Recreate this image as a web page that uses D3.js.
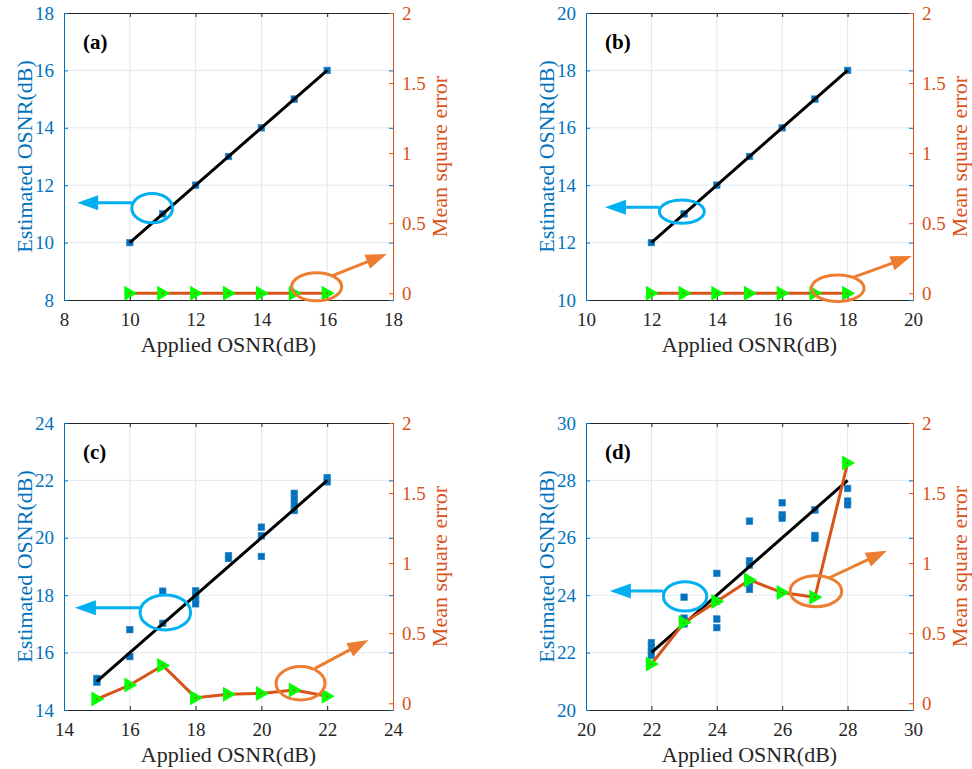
<!DOCTYPE html>
<html>
<head>
<meta charset="utf-8">
<script src="https://cdn.jsdelivr.net/npm/d3@7"></script>
<style>
  html, body { margin: 0; padding: 0; background: #fff; }
  svg text { font-family: "Liberation Serif", "Tinos", "DejaVu Serif", "Noto Serif", "Times New Roman", serif; }
</style>
</head>
<body>
<svg id="fig" width="972" height="769"></svg>
<script>
// ---- data ----------------------------------------------------------
const panelLabels = ["(a)", "(b)", "(c)", "(d)"];

const appliedA = [10, 11, 12, 13, 14, 15, 16];
const estimatedA = [[10], [11], [12], [13], [14], [15], [16]];
const mseA = [0, 0, 0, 0, 0, 0, 0];

const appliedB = [12, 13, 14, 15, 16, 17, 18];
const estimatedB = [[12], [13], [14], [15], [16], [17], [18]];
const mseB = [0, 0, 0, 0, 0, 0, 0];

const appliedC = [15, 16, 17, 18, 19, 20, 21, 22];
const estimatedC = [
  [15.1, 14.97], [16.8, 15.86], [18.14, 17.02], [18.15, 18.0, 17.85, 17.7],
  [19.38, 19.28], [20.37, 20.07, 19.35], [21.55, 21.35, 21.15, 20.95], [22.1, 21.95]
];
const mseC = [0.03, 0.13, 0.27, 0.04, 0.065, 0.07, 0.095, 0.05];

const appliedD = [22, 23, 24, 25, 26, 27, 28];
const estimatedD = [
  [22.35, 22.2, 22.05, 21.9], [23.93, 23.2, 23.0], [24.76, 23.8, 23.17, 22.87],
  [26.58, 25.2, 25.05, 24.4, 24.2], [27.22, 26.8, 26.68], [26.97, 26.08, 25.98],
  [27.72, 27.28, 27.15]
];
const mseD = [0.28, 0.576, 0.726, 0.88, 0.79, 0.757, 1.714];

// tick values
const ticksA = [8, 10, 12, 14, 16, 18];
const ticksB = [10, 12, 14, 16, 18, 20];
const ticksC = [14, 16, 18, 20, 22, 24];
const ticksD = [20, 22, 24, 26, 28, 30];
const mseTicks = [0, 0.5, 1, 1.5, 2];
const mseDomain = [-0.048, 2];

const xTitle = "Applied OSNR(dB)";
const yLeftTitle = "Estimated OSNR(dB)";
const yRightTitle = "Mean square error";

// ---- styles --------------------------------------------------------
const FONT = '"Liberation Serif", "Tinos", "DejaVu Serif", "Noto Serif", "Times New Roman", serif';
const C = {
  blue: "#0072BD", orange: "#D95319", ink: "#262626",
  green: "#00FF00", noteBlue: "#00B0F0", noteOrange: "#ED7D31",
  gridH: "#dfeaf4", gridV: "#e6e6e6"
};

// panel frames and annotation placement (annotations in left-axis data units)
const panels = [
  { label: panelLabels[0], x: appliedA, est: estimatedA, mse: mseA, ticks: ticksA,
    box: [64, 13, 393, 300],
    blue: { c: [10.68, 11.2], r: [20.3, 14.7], from: [10.07, 11.39], to: [8.4, 11.39] },
    orange: { c: [15.68, 8.46], r: [25, 14], from: [16.14, 8.84], to: [17.81, 9.6] } },
  { label: panelLabels[1], x: appliedB, est: estimatedB, mse: mseB, ticks: ticksB,
    box: [586, 13, 913, 300],
    blue: { c: [12.93, 13.08], r: [22.5, 11.7], from: [12.24, 13.23], to: [10.58, 13.23] },
    orange: { c: [17.7, 10.41], r: [26.3, 13.2], from: [18.17, 10.79], to: [19.96, 11.53] } },
  { label: panelLabels[2], x: appliedC, est: estimatedC, mse: mseC, ticks: ticksC,
    box: [64, 423, 393, 710],
    blue: { c: [17.08, 17.4], r: [25.3, 17.5], from: [16.31, 17.56], to: [14.33, 17.56] },
    orange: { c: [21.19, 14.93], r: [24.5, 16.7], from: [21.63, 15.45], to: [23.25, 16.44] } },
  { label: panelLabels[3], x: appliedD, est: estimatedD, mse: mseD, ticks: ticksD,
    box: [586, 423, 913, 710],
    blue: { c: [23.03, 23.96], r: [21.7, 14.7], from: [22.36, 24.15], to: [20.73, 24.15] },
    orange: { c: [27.03, 24.14], r: [25.8, 15.5], from: [27.41, 24.59], to: [29.2, 25.55] } }
];

const svg = d3.select("#fig");

function arrow(g, x1, y1, x2, y2, color) {
  const ang = Math.atan2(y2 - y1, x2 - x1);
  const len = 21, half = 7.5;
  const bx = x2 - len * Math.cos(ang), by = y2 - len * Math.sin(ang);
  g.append("line")
    .attr("x1", x1).attr("y1", y1)
    .attr("x2", bx + 2 * Math.cos(ang)).attr("y2", by + 2 * Math.sin(ang))
    .attr("stroke", color).attr("stroke-width", 3);
  const px = -Math.sin(ang) * half, py = Math.cos(ang) * half;
  g.append("path")
    .attr("d", `M${x2},${y2}L${bx + px},${by + py}L${bx - px},${by - py}Z`)
    .attr("fill", color);
}

panels.forEach(p => {
  const [L, T, R, B] = p.box;
  const x = d3.scaleLinear().domain(d3.extent(p.ticks)).range([L, R]);
  const y = d3.scaleLinear().domain(d3.extent(p.ticks)).range([B, T]);
  const y2 = d3.scaleLinear().domain(mseDomain).range([B, T]);
  const g = svg.append("g");

  // grid
  g.append("g").selectAll("line").data(p.ticks.slice(1, -1)).join("line")
    .attr("x1", d => x(d)).attr("x2", d => x(d)).attr("y1", T).attr("y2", B)
    .attr("stroke", C.gridV).attr("stroke-width", 1);
  g.append("g").selectAll("line").data(p.ticks.slice(1, -1)).join("line")
    .attr("y1", d => y(d)).attr("y2", d => y(d)).attr("x1", L).attr("x2", R)
    .attr("stroke", C.gridH).attr("stroke-width", 1);

  // axes via d3-axis (ticks pointing inward)
  const fmt = d3.format("~g");
  const bottom = g.append("g").attr("transform", `translate(0,${B})`)
    .call(d3.axisBottom(x).tickValues(p.ticks).tickFormat(fmt).tickSizeInner(-4).tickSizeOuter(0).tickPadding(10))
    .attr("font-family", FONT);
  bottom.select(".domain").attr("stroke", C.ink);
  bottom.selectAll(".tick line").attr("stroke", C.ink);
  bottom.selectAll(".tick text").attr("fill", C.ink).attr("font-size", 19).attr("dy", "0.85em");

  const top = g.append("g").attr("transform", `translate(0,${T})`)
    .call(d3.axisTop(x).tickValues(p.ticks).tickFormat("").tickSizeInner(-4).tickSizeOuter(0));
  top.select(".domain").attr("stroke", C.ink);
  top.selectAll(".tick line").attr("stroke", C.ink);

  const left = g.append("g").attr("transform", `translate(${L},0)`)
    .call(d3.axisLeft(y).tickValues(p.ticks).tickFormat(fmt).tickSizeInner(-4).tickSizeOuter(0).tickPadding(10))
    .attr("font-family", FONT);
  left.select(".domain").attr("stroke", C.blue);
  left.selectAll(".tick line").attr("stroke", C.blue);
  left.selectAll(".tick text").attr("fill", C.blue).attr("font-size", 19);

  // left ticks mirrored on right edge
  g.append("g").attr("transform", `translate(${R},0)`)
    .call(d3.axisRight(y).tickValues(p.ticks).tickFormat("").tickSizeInner(-4).tickSizeOuter(0))
    .call(s => s.select(".domain").remove())
    .selectAll(".tick line").attr("stroke", C.blue);

  const right = g.append("g").attr("transform", `translate(${R},0)`)
    .call(d3.axisRight(y2).tickValues(mseTicks).tickFormat(fmt).tickSizeInner(-4).tickSizeOuter(0).tickPadding(9))
    .attr("font-family", FONT);
  right.select(".domain").attr("stroke", C.orange);
  right.selectAll(".tick line").attr("stroke", C.orange);
  right.selectAll(".tick text").attr("fill", C.orange).attr("font-size", 19);

  // axis titles
  g.append("text").attr("x", (L + R) / 2).attr("y", B + 52)
    .attr("text-anchor", "middle").attr("font-size", 22).attr("fill", C.ink).text(xTitle);
  g.append("text").attr("transform", `translate(${L - 40},${(T + B) / 2}) rotate(-90)`)
    .attr("text-anchor", "middle").attr("dy", "0.35em")
    .attr("font-size", 22).attr("fill", C.blue).text(yLeftTitle);
  g.append("text").attr("transform", `translate(${R + 46},${(T + B) / 2}) rotate(-90)`)
    .attr("text-anchor", "middle").attr("dy", "0.35em")
    .attr("font-size", 22).attr("fill", C.orange).text(yRightTitle);

  // estimated OSNR points
  const pts = p.x.flatMap((xv, i) => p.est[i].map(v => [xv, v]));
  const s = 6.6;
  g.append("g").selectAll("rect").data(pts).join("rect")
    .attr("x", d => x(d[0]) - s / 2).attr("y", d => y(d[1]) - s / 2)
    .attr("width", s).attr("height", s)
    .attr("fill", C.blue).attr("stroke", "#2f86c6").attr("stroke-width", 0.6);

  // ideal reference line
  const xEnds = d3.extent(p.x);
  g.append("path")
    .attr("d", d3.line()(xEnds.map(v => [x(v), y(v)])))
    .attr("stroke", "#000").attr("stroke-width", 3).attr("fill", "none");

  // mean square error
  g.append("path")
    .attr("d", d3.line()(p.x.map((xv, i) => [x(xv), y2(p.mse[i])])))
    .attr("stroke", C.orange).attr("stroke-width", 3).attr("fill", "none")
    .attr("stroke-linejoin", "round");
  g.append("g").selectAll("path").data(p.x.map((xv, i) => [xv, p.mse[i]])).join("path")
    .attr("transform", d => `translate(${x(d[0])},${y2(d[1])})`)
    .attr("d", "M-5.5,-7.5L-5.5,7.5L7.5,0Z")
    .attr("fill", C.green);
  g.append("g").selectAll("circle").data(p.x.map((xv, i) => [xv, p.mse[i]])).join("circle")
    .attr("cx", d => x(d[0])).attr("cy", d => y2(d[1])).attr("r", 0.9)
    .attr("fill", "#e0401a");

  // annotations
  const nb = p.blue, no = p.orange;
  g.append("ellipse").attr("cx", x(nb.c[0])).attr("cy", y(nb.c[1]))
    .attr("rx", nb.r[0]).attr("ry", nb.r[1])
    .attr("fill", "none").attr("stroke", C.noteBlue).attr("stroke-width", 3);
  arrow(g, x(nb.from[0]), y(nb.from[1]), x(nb.to[0]), y(nb.to[1]), C.noteBlue);
  g.append("ellipse").attr("cx", x(no.c[0])).attr("cy", y(no.c[1]))
    .attr("rx", no.r[0]).attr("ry", no.r[1])
    .attr("fill", "none").attr("stroke", C.noteOrange).attr("stroke-width", 3);
  arrow(g, x(no.from[0]), y(no.from[1]), x(no.to[0]), y(no.to[1]), C.noteOrange);

  // panel letter
  g.append("text").attr("x", L + 19).attr("y", T + 36)
    .attr("font-size", 21).attr("font-weight", "bold").attr("fill", "#000").text(p.label);
});
</script>
</body>
</html>
